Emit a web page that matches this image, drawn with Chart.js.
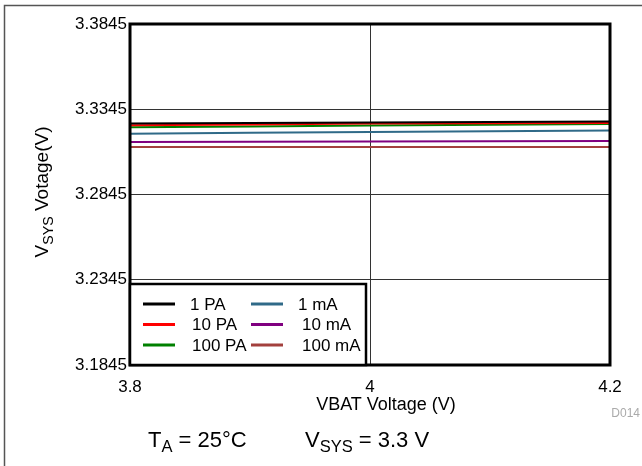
<!DOCTYPE html>
<html>
<head>
<meta charset="utf-8">
<script src="https://cdn.jsdelivr.net/npm/chart.js@4"></script>
<style>
body{margin:0;background:#fff}
canvas{display:block}
</style>
</head>
<body>
<canvas id="myChart" width="642" height="466"></canvas>
<script>
// VBAT voltage sweep
let xVals=[3.8,3.9,4.0,4.1,4.2]
let pa1=[3.3261,3.3264,3.3267,3.3270,3.3273]
let pa10=[3.3251,3.3256,3.3261,3.3263,3.3265]
let pa100=[3.3239,3.3244,3.3249,3.3254,3.3259]
let ma1=[3.3202,3.3207,3.3212,3.3216,3.3221]
let ma10=[3.3153,3.3155,3.3156,3.3158,3.3159]
let ma100=[3.3123,3.3123,3.3123,3.3123,3.3123]
let seriesNames=["1 PA","10 PA","100 PA","1 mA","10 mA","100 mA"]
let yTicks=[3.1845,3.2345,3.2845,3.3345,3.3845]
let xTicks=[3.8,4,4.2]

let colors=["#000000","#ff0000","#008000","#306a88","#800080","#a3403d"]
let allSeries=[pa1,pa10,pa100,ma1,ma10,ma100]
let FONT="'Liberation Sans', Arial, sans-serif"

function pts(arr){
  return xVals.map((x,i)=>({x:x,y:arr[i]}))
}

// text with subscript parts
function partsWidth(c,parts,size,sub){
  let w=0
  parts.forEach(p=>{c.font=(p[1]?size*sub:size)+"px "+FONT;w+=c.measureText(p[0]).width})
  return w
}
function drawParts(c,x,y,parts,size,sub){
  parts.forEach(p=>{
    if(p[1]){
      c.font=(size*sub)+"px "+FONT
      c.fillText(p[0],x,y+size*0.3)
    }else{
      c.font=size+"px "+FONT
      c.fillText(p[0],x,y)
    }
    x+=c.measureText(p[0]).width
  })
}

let extras={
  id:"extras",
  beforeDraw(chart){
    let c=chart.ctx
    c.save()
    c.fillStyle="#fff"
    c.fillRect(0,0,chart.width,chart.height)
    // outer frame lines
    c.strokeStyle="#555"
    c.lineWidth=1.5
    c.beginPath()
    c.moveTo(4.5,466);c.lineTo(4.5,5.5);c.lineTo(642,5.5)
    c.stroke()
    c.restore()
  },
  afterDraw(chart){
    let c=chart.ctx
    let a=chart.chartArea
    c.save()
    // plot border
    c.strokeStyle="#000"
    c.lineWidth=3
    c.strokeRect(a.left,a.top,a.right-a.left,a.bottom-a.top)

    // legend box
    let lx=a.left, ly=284, lw=236, lh=a.bottom-ly
    c.fillStyle="#fff"
    c.fillRect(lx,ly,lw,lh)
    c.lineWidth=2.5
    c.strokeRect(lx,ly,lw,lh)
    c.textBaseline="middle"
    c.textAlign="left"
    c.font="17px "+FONT
    chart.data.datasets.forEach((ds,i)=>{
      let col=Math.floor(i/3), row=i%3
      let x0=lx+13+col*108
      let y0=ly+20+row*20.5
      c.strokeStyle=ds.borderColor
      c.lineWidth=3
      c.beginPath();c.moveTo(x0,y0);c.lineTo(x0+32,y0);c.stroke()
      c.fillStyle="#000"
      c.fillText(ds.label,x0+47+(row>0?2:0)+(col>0&&row>0?2:0),y0+1)
    })

    c.fillStyle="#000"
    // x title
    c.textAlign="center"
    c.font="18px "+FONT
    c.fillText("VBAT Voltage (V)",(a.left+a.right)/2+16,405)

    // y title rotated
    c.save()
    c.translate(43,192)
    c.rotate(-Math.PI/2)
    c.textAlign="left"
    let parts=[["V",0],["SYS",1],[" Votage(V)",0]]
    let w=partsWidth(c,parts,19,0.75)
    drawParts(c,-w/2,0,parts,19,0.75)
    c.restore()

    // D014
    c.textAlign="right"
    c.fillStyle="#aaa"
    c.font="12px "+FONT
    c.fillText("D014",640,414)

    // conditions
    c.textAlign="left"
    c.fillStyle="#000"
    drawParts(c,148,441,[["T",0],["A",1],[" = 25°C",0]],22,0.75)
    drawParts(c,305,441,[["V",0],["SYS",1],[" = 3.3 V",0]],22,0.75)
    c.restore()
  }
}

let ctx=document.getElementById("myChart").getContext("2d")
let myChart=new Chart(ctx,{
  type:"line",
  data:{
    datasets:allSeries.map((s,i)=>({
      label:seriesNames[i],
      data:pts(s),
      borderColor:colors[i],
      borderWidth:2,
      pointRadius:0,
      fill:false,
      tension:0
    }))
  },
  options:{
    responsive:false,
    animation:false,
    layout:{padding:{left:0,right:32,top:24,bottom:0}},
    plugins:{legend:{display:false},tooltip:{enabled:false}},
    scales:{
      x:{
        type:"linear",
        min:3.8,max:4.2,
        afterBuildTicks:s=>{s.ticks=xTicks.map(v=>({value:v}))},
        afterFit:s=>{s.height=101},
        grid:{color:"#333",lineWidth:1,drawTicks:false},
        border:{display:false},
        ticks:{
          padding:12,
          color:"#000",
          font:{family:FONT,size:17},
          maxRotation:0,
          callback:v=>String(v)
        }
      },
      y:{
        min:3.1845,max:3.3845,
        afterBuildTicks:s=>{s.ticks=yTicks.map(v=>({value:v}))},
        afterFit:s=>{s.width=130},
        grid:{color:"#333",lineWidth:1,drawTicks:false},
        border:{display:false},
        ticks:{
          padding:3,
          color:"#000",
          font:{family:FONT,size:17},
          callback:v=>Number(v).toFixed(4)
        }
      }
    }
  },
  plugins:[extras]
})
</script>
</body>
</html>
